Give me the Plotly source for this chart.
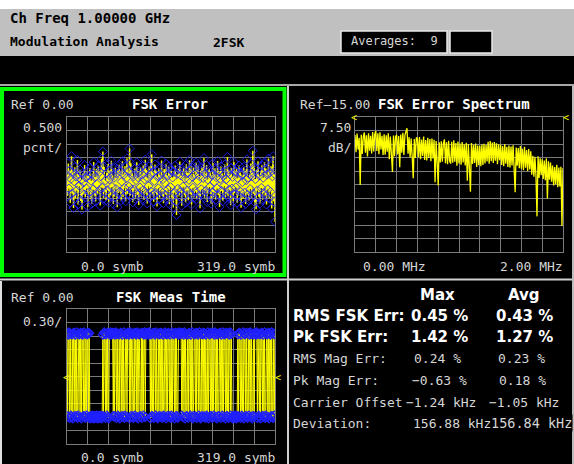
import plotly.graph_objects as go

W, H = 574, 464

# ---------------- data ----------------
symbols = list(range(320))

fsk_error_pct = [
    0.35, -0.42, 0.78, -0.15, 0.52, -0.68, 0.21, 1.05, -0.33, 0.46, -0.87, 0.12, 0.64, -0.51, 0.29, -0.22, 0.91, -0.74, 0.38, -0.05,
    0.55, -0.61, 0.18, -0.93, 0.42, 0.08, -0.37, 0.72, -0.48, 0.26, -0.15, 0.49, -0.82, 0.33, -0.28, 0.61, -0.55, 0.14, -0.71, 0.40,
    -0.19, 0.83, -0.44, 0.27, -0.63, 0.58, 0.02, -0.36, 0.69, -0.24, 0.47, -0.78, 0.31, 0.95, -0.12, 1.22, -0.52, 0.66, -0.29, 0.15,
    -0.58, 0.44, -0.21, 0.76, -0.67, 0.19, 0.53, -0.41, 0.88, -0.09, 0.34, -0.72, 0.25, -0.46, 0.62, -0.17, 0.41, -0.84, 0.57, -0.31,
    0.73, -0.26, 0.48, -0.59, 0.11, 0.86, -0.47, 0.37, -0.13, 0.68, -0.62, 0.23, 0.97, -0.35, 0.51, -0.08, 1.33, -0.43, 0.79, -0.20,
    0.44, -0.66, 0.30, -0.18, 0.59, -0.53, 0.16, 0.82, -0.39, 0.27, -0.76, 0.48, -0.11, 0.63, -0.45, 0.36, -0.23, 0.71, -0.57, 0.19,
    0.92, -0.34, 0.55, -0.70, 0.24, -0.06, 0.67, -0.49, 0.38, -0.27, 1.12, -0.40, 0.45, -0.64, 0.13, 0.74, -0.31, 0.52, -0.81, 0.28,
    -0.14, 0.61, -0.52, 0.35, -0.25, 0.89, -0.43, 0.20, -0.69, 0.57, 0.06, -0.38, 0.77, -0.56, 0.32, -0.19, 0.66, -0.73, 0.41, -0.10,
    0.54, -0.47, 0.26, -0.85, 0.47, -0.30, 0.70, -0.62, -1.13, 0.39, -0.16, 0.58, -0.44, 0.85, -0.27, 0.33, -0.79, 0.49, -0.08, 0.62,
    -0.40, 0.22, -0.67, 0.75, -0.21, 0.43, -0.58, 0.17, 0.90, -0.35, 0.56, -0.74, 0.29, -0.12, 0.65, -0.48, 0.37, -0.26, 0.81, -0.54,
    0.13, 0.69, -0.42, 0.31, -0.88, 0.52, -0.18, 0.64, -0.37, 0.24, 0.98, -0.50, 0.40, -0.23, 0.72, -0.65, 0.18, -0.33, 0.58, -0.09,
    0.46, -0.71, 0.35, -0.28, 0.79, -0.46, 0.10, 0.60, -0.57, 0.27, -0.14, 0.87, -0.39, 0.50, -0.83, 0.21, 0.67, -0.24, 0.42, -0.61,
    0.32, -0.05, 0.74, -0.52, 0.19, -0.36, 1.02, -0.44, 0.55, -0.20, 0.38, -0.77, 0.61, -0.15, 0.28, -0.63, 0.83, -0.32, 0.47, -0.11,
    0.57, -0.68, 0.23, -0.41, 0.70, -0.25, 0.44, -0.86, 0.36, 0.09, -0.53, 0.65, -0.30, 0.51, -0.72, 0.16, 0.93, -0.38, 0.26, -0.59,
    0.41, -0.17, 0.78, -0.49, 0.30, 1.25, -0.34, 0.63, -0.66, 0.20, -0.92, 0.54, -0.22, 0.86, -0.45, 0.33, -0.70, 0.48, -0.13, 0.71,
    -0.56, 0.25, -0.31, 0.82, -0.43, 0.59, -0.74, 0.37, -0.18, 0.96, -0.51, 0.44, -0.27, 0.68, -0.89, 0.30, 1.05, -0.62, 0.40, -1.38,
]

spec_freq_mhz = [round(i * 0.01, 2) for i in range(201)]
spec_db = [
    -25.0, -34.5, -24.2, -33.1, -26.5, -52.8, -24.8, -35.6, -25.9, -23.6, -34.8, -25.1, -36.9, -24.0, -33.7, -25.5, -35.2, -23.4, -34.1, -24.7,
    -22.8, -33.9, -24.1, -35.7, -23.5, -33.0, -25.4, -36.1, -24.6, -35.9, -25.2, -34.3, -24.0, -38.4, -25.8, -36.0, -45.6, -25.3, -36.8, -26.1,
    -24.9, -35.8, -25.6, -42.9, -24.7, -34.9, -23.8, -36.1, -25.0, -23.0, -21.2, -35.4, -26.2, -37.5, -27.0, -36.9, -49.0, -27.3, -37.8, -26.4,
    -27.0, -37.3, -26.1, -38.4, -27.5, -36.6, -25.9, -38.9, -27.8, -39.2, -26.6, -37.7, -27.2, -39.6, -26.9, -38.1, -27.6, -51.2, -28.4, -40.0,
    -53.0, -29.1, -40.2, -28.5, -39.8, -29.6, -27.4, -40.7, -29.0, -41.3, -28.2, -39.5, -40.9, -28.8, -40.4, -27.9, -39.9, -29.4, -42.0, -28.6,
    -40.8, -29.7, -41.5, -28.9, -40.3, -30.2, -41.9, -29.3, -50.4, -30.0, -42.2, -56.5, -29.5, -41.1, -30.4, -40.6, -29.8, -42.7, -30.9, -41.8,
    -31.0, -42.4, -30.3, -41.6, -29.9, -40.8, -30.6, -39.7, -28.7, -40.9, -28.4, -39.6, -29.2, -40.5, -28.9, -39.3, -29.6, -41.2, -30.1, -39.0,
    -30.5, -41.7, -31.2, -42.3, -30.0, -41.0, -31.6, -42.8, -30.8, -43.1, -31.4, -41.9, -30.7, -42.6, -56.8, -31.9, -42.0, -32.3, -43.4, -31.1,
    -43.8, -32.6, -44.5, -31.5, -43.2, -33.4, -45.0, -32.8, -44.2, -34.0,
    -47.0, -36.5, -48.2, -37.1, -47.6, -70.2, -36.8, -48.9, -38.0, -47.3,
    -38.5, -49.4, -39.2, -50.1, -38.0, -60.3, -39.6, -49.8, -40.3, -51.0,
    -42.0, -53.1, -42.8, -52.4, -41.5, -54.0, -43.1, -53.6, -42.6, -75.6, -43.4,
]

meas_time = [
    0.96, -0.89, 0.93, 0.98, -0.92, 0.95, -0.87, -0.90, 0.94, -0.93, 0.97, 0.96, -0.88, 0.93, -0.89, 0.98, -0.92, -0.87, 0.95, 0.94,
    -0.90, 0.97, -0.93, 0.96, 0.93, -0.88, 0.98, -0.89, -0.92, 0.95, -0.87, 0.94, 0.97, -0.90, 0.96, -0.93, -0.88, -0.89, -0.92, -0.87,
    -0.90, -0.93, -0.88, -0.89, -0.92, -0.87, -0.90, -0.93, -0.88, -0.89, -0.92, -0.87, -0.90, -0.93, -0.88, 0.93, -0.89, 0.98, 0.95, -0.92,
    0.94, -0.87, 0.97, -0.90, -0.93, 0.96, 0.93, 0.98, 0.95, 0.94, 0.97, -0.88, 0.96, -0.89, 0.93, 0.98, -0.92, 0.95, -0.87, -0.90,
    0.94, -0.93, 0.97, 0.96, -0.88, 0.93, -0.89, 0.98, -0.92, -0.87, 0.95, 0.94, -0.90, 0.97, 0.96, 0.93, -0.93, 0.98, -0.88, 0.95,
    0.94, -0.89, -0.92, 0.97, -0.87, 0.96, 0.93, -0.90, 0.98, -0.93, 0.95, 0.94, -0.88, -0.89, 0.97, -0.92, 0.96, -0.87, 0.93, 0.98,
    -0.90, 0.95, 0.94, 0.97, 0.96, 0.93, 0.98, 0.95, -0.93, 0.94, -0.88, -0.89, 0.97, -0.92, 0.96, 0.93, -0.87, 0.98, -0.90, -0.93,
    0.95, -0.88, 0.94, 0.97, -0.89, 0.96, -0.92, 0.93, -0.87, -0.90, 0.98, 0.95, -0.93, 0.94, -0.88, 0.97, 0.96, -0.89, 0.93, -0.92,
    -0.87, 0.98, -0.90, 0.95, 0.94, -0.93, 0.97, -0.88, 0.96, -0.89, -0.92, 0.93, 0.98, 0.95, 0.94, 0.97, -0.87, 0.96, -0.90, 0.93,
    0.98, -0.93, 0.95, -0.88, -0.89, 0.94, -0.92, 0.97, 0.96, -0.87, 0.93, -0.90, 0.98, -0.93, -0.88, 0.95, 0.94, -0.89, 0.97, -0.92,
    0.96, 0.93, -0.87, 0.98, -0.90, -0.93, 0.95, -0.88, 0.94, 0.97, -0.89, 0.96, -0.92, 0.93, -0.87, -0.90, 0.98, -0.93, 0.95, 0.94,
    -0.88, 0.97, -0.89, -0.92, 0.96, -0.87, 0.93, 0.98, -0.90, 0.95, -0.93, 0.94, -0.88, -0.89, 0.97, 0.96, -0.92, 0.93, -0.87, 0.98,
    -0.90, 0.95, 0.94, -0.93, 0.97, -0.88, -0.89, 0.96, -0.92, 0.93, 0.98, -0.87, 0.95, -0.90, -0.93, -0.88, -0.89, -0.92, -0.87, -0.90,
    -0.93, -0.88, 0.94, -0.89, 0.97, 0.96, -0.92, 0.93, -0.87, -0.90, 0.98, -0.93, 0.95, 0.94, -0.88, 0.97, -0.89, -0.92, 0.96, -0.87,
    0.93, 0.98, -0.90, 0.95, -0.93, -0.88, 0.94, -0.89, 0.97, 0.96, 0.93, 0.98, -0.92, 0.95, -0.87, -0.90, 0.94, -0.93, 0.97, 0.96,
    -0.88, 0.93, -0.89, 0.98, -0.92, -0.87, 0.95, 0.94, -0.90, 0.97, -0.93, 0.96, 0.93, -0.88, 0.98, -0.89, -0.92, 0.95, -0.87, 0.94,
]

result_rows = ["RMS FSK Err:", "Pk FSK Err:", "RMS Mag Err:", "Pk Mag Err:", "Carrier Offset", "Deviation:"]
result_max = ["0.45 %", "1.42 %", "0.24 %", "\u22120.63 %", "\u22121.24 kHz", "156.88 kHz"]
result_avg = ["0.43 %", "1.27 %", "0.23 %", "0.18 %", "\u22121.05 kHz", "156.84 kHz"]

# ---------------- styles ----------------
MONO = "DejaVu Sans Mono"
SANS = "DejaVu Sans"
YEL = "#ffff00"
BLUE = "#2020ff"
GRID = "#7a7a7a"
LIGHT = "#d6d6d6"


def px(x):
    return x / W


def py(y):
    return 1 - y / H


fig = go.Figure()

# FSK Error
fig.add_trace(go.Scatter(x=symbols, y=fsk_error_pct, mode="lines",
                         line=dict(color=YEL, width=1.4), xaxis="x", yaxis="y", hoverinfo="skip"))
fig.add_trace(go.Scatter(x=symbols, y=fsk_error_pct, mode="markers",
                         marker=dict(symbol="diamond-open", size=7, color=BLUE, opacity=0.85,
                                     line=dict(width=1, color=BLUE)),
                         xaxis="x", yaxis="y", hoverinfo="skip"))
# Spectrum
fig.add_trace(go.Scatter(x=spec_freq_mhz, y=spec_db, mode="lines",
                         line=dict(color=YEL, width=1.3), xaxis="x2", yaxis="y2", hoverinfo="skip"))
# Meas time
fig.add_trace(go.Scatter(x=symbols, y=meas_time, mode="lines",
                         line=dict(color=YEL, width=1), xaxis="x3", yaxis="y3", hoverinfo="skip"))
fig.add_trace(go.Scatter(x=symbols, y=meas_time, mode="markers",
                         marker=dict(symbol="diamond-open", size=7, color=BLUE, line=dict(width=1.3, color=BLUE)),
                         xaxis="x3", yaxis="y3", hoverinfo="skip"))

ax_common = dict(showticklabels=False, ticks="", zeroline=False, showgrid=True,
                 gridcolor=GRID, gridwidth=1, showline=True, linecolor=GRID, linewidth=1,
                 mirror=True, fixedrange=True)

yd_top = [py(252), py(117)]
yd_bot = [py(444), py(309)]

fig.update_layout(
    width=W, height=H, autosize=False,
    margin=dict(l=0, r=0, t=0, b=0),
    paper_bgcolor="black", plot_bgcolor="black",
    showlegend=False,
    xaxis=dict(domain=[px(67), px(275)], range=[0, 319], tick0=0, dtick=31.9, anchor="y", **ax_common),
    yaxis=dict(domain=yd_top, range=[-2.5, 2.5], tick0=-2.5, dtick=0.5, anchor="x", **ax_common),
    xaxis2=dict(domain=[px(355), px(563)], range=[0, 2], tick0=0, dtick=0.2, anchor="y2", **ax_common),
    yaxis2=dict(domain=yd_top, range=[-90, -15], tick0=-90, dtick=7.5, anchor="x2", **ax_common),
    xaxis3=dict(domain=[px(67), px(275)], range=[0, 319], tick0=0, dtick=31.9, anchor="y3", **ax_common),
    yaxis3=dict(domain=yd_bot, range=[-1.5, 1.5], tick0=-1.5, dtick=0.3, anchor="x3", **ax_common),
)

shapes = []


def rect(x0, y0, x1, y1, fill=None, line=None, lw=0, layer="above"):
    shapes.append(dict(type="rect", xref="paper", yref="paper",
                       x0=px(x0), x1=px(x1), y0=py(y1), y1=py(y0),
                       fillcolor=fill if fill else "rgba(0,0,0,0)",
                       line=dict(color=line if line else "rgba(0,0,0,0)", width=lw),
                       layer=layer))


def hline(x0, x1, y, color, lw):
    shapes.append(dict(type="line", xref="paper", yref="paper", x0=px(x0), x1=px(x1),
                       y0=py(y), y1=py(y), line=dict(color=color, width=lw)))


def vline(x, y0, y1, color, lw):
    shapes.append(dict(type="line", xref="paper", yref="paper", x0=px(x), x1=px(x),
                       y0=py(y0), y1=py(y1), line=dict(color=color, width=lw)))


# header
rect(0, 9, W, 56, fill="#c0c0c0", layer="below")
rect(0, 0, W, 9, fill="white", layer="above")
rect(341, 31, 447, 53, fill="black", line="#e8e8e8", lw=1.5)
rect(450, 31, 492, 53, fill="black", line="#e8e8e8", lw=1.5)
hline(0, W, 85, "#a8a8a8", 2)
# panel separators
vline(288, 86, H, "#cfcfcf", 2)
hline(0, W, 279.5, "#cfcfcf", 2)
vline(573, 86, H, "#bdbdbd", 2)
vline(1, 281, H, "#e0e0e0", 2)
# active panel green border
rect(2, 89, 284.5, 275, line="#00ff00", lw=4)
fig.update_layout(shapes=shapes)

annotations = []


def ann(text, x, y, size=13, color=LIGHT, bold=False, anchor="left", family=MONO, bg=None):
    d = dict(text=text, x=px(x), y=py(y), xref="paper", yref="paper", showarrow=False,
             xanchor=anchor, yanchor="middle",
             font=dict(family=family, size=size, color=color, weight="bold" if bold else "normal"),
             borderpad=0)
    if bg:
        d["bgcolor"] = bg
    annotations.append(d)


# header texts
ann("Ch Freq 1.00000 GHz", 9, 18, size=14, color="black", bold=True)
ann("Modulation Analysis", 9, 41, size=13, color="black", bold=True)
ann("2FSK", 212, 42, size=13, color="black", bold=True)
ann("Averages:  9", 394, 41, size=12, color=LIGHT, anchor="center")

# top-left panel
ann("Ref 0.00", 10, 104, size=13)
ann("FSK Error", 170, 104, size=14, color="white", bold=True, anchor="center")
ann("0.500", 63, 127, size=13, anchor="right")
ann("pcnt/", 63, 147, size=13, anchor="right")
ann("0.0 symb", 80, 266, size=13)
ann("319.0 symb", 276, 266, size=13, anchor="right")

# top-right panel
ann("Ref\u201315.00", 299, 104, size=13)
ann("FSK Error Spectrum", 377, 104, size=14, color="white", bold=True)
ann("7.50", 352, 127, size=13, anchor="right")
ann("dB/", 352, 147, size=13, anchor="right")
ann("0.00 MHz", 362, 266, size=13)
ann("2.00 MHz", 564, 266, size=13, anchor="right")
ann("<", 354, 117, size=10, color=YEL, anchor="center")
ann("<", 566, 117, size=10, color=YEL, anchor="center")

# bottom-left panel
ann("Ref 0.00", 10, 297, size=13)
ann("FSK Meas Time", 171, 297, size=14, color="white", bold=True, anchor="center")
ann("0.30/", 63, 321, size=13, anchor="right")
ann("0.0 symb", 80, 457, size=13)
ann("319.0 symb", 276, 457, size=13, anchor="right")
ann("<", 66, 377, size=10, color=YEL, anchor="center")
ann("<", 278, 377, size=10, color=YEL, anchor="center")

# bottom-right results
ann("Max", 438, 295, size=15, color="white", bold=True, anchor="center", family=SANS)
ann("Avg", 524, 295, size=15, color="white", bold=True, anchor="center", family=SANS)
row_y = [316, 337, 358, 380, 402, 423]
max_x = [410, 410, 413, 411, 405, 412]
avg_x = [495, 495, 497, 498, 488, 490]
for i, lab in enumerate(result_rows):
    if i < 2:
        ann(lab, 292, row_y[i], size=15, color="white", bold=True, family=SANS)
        ann(result_max[i], max_x[i], row_y[i], size=15, color="white", bold=True, family=SANS)
        ann(result_avg[i], avg_x[i], row_y[i], size=15, color="white", bold=True, family=SANS)
    else:
        ann(lab, 292, row_y[i], size=13)
        ann(result_max[i], max_x[i], row_y[i], size=13)
        ann(result_avg[i], avg_x[i], row_y[i], size=13.5 if i == 5 else 13, bg="black" if i == 5 else None)

fig.update_layout(annotations=annotations)

fig.write_html("out.html", config={"displayModeBar": False},
               post_script="document.body.style.margin='0';document.body.style.overflow='hidden';")
